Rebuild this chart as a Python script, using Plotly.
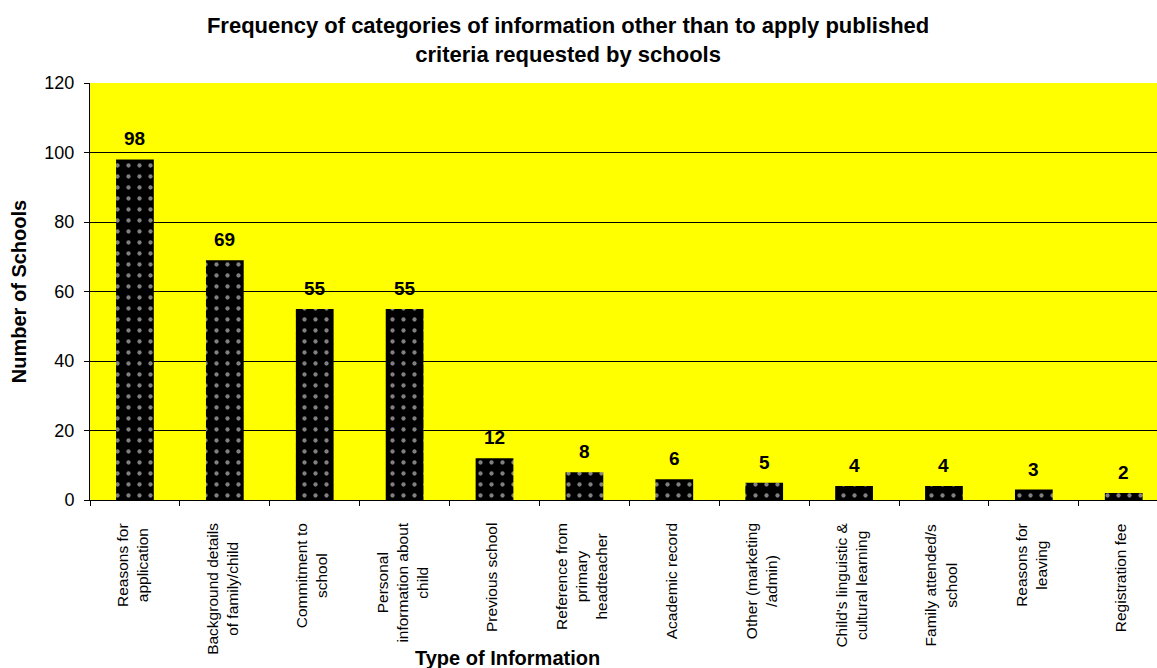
import plotly.graph_objects as go

categories = [
    "Reasons for<br>application",
    "Background details<br>of family/child",
    "Commitment to<br>school",
    "Personal<br>information about<br>child",
    "Previous school",
    "Reference from<br>primary<br>headteacher",
    "Academic record",
    "Other (marketing<br>/admin)",
    "Child's linguistic &<br>cultural learning",
    "Family attended/s<br>school",
    "Reasons for<br>leaving",
    "Registration fee",
]
schools = [98, 69, 55, 55, 12, 8, 6, 5, 4, 4, 3, 2]
y_ticks = [0, 20, 40, 60, 80, 100, 120]

FONT = "Liberation Sans, Arial, sans-serif"
PLOT_H = 668 - 83 - 168

fig = go.Figure(
    go.Bar(
        x=categories,
        y=schools,
        width=0.42,
        marker=dict(
            color="black",
            line=dict(width=0),
            pattern=dict(shape=".", fgcolor="white", bgcolor="black", size=11, solidity=0.12),
        ),
        cliponaxis=False,
    )
)

# value labels above each bar
for cat, val in zip(categories, schools):
    fig.add_annotation(
        x=cat, y=val, xref="x", yref="y",
        text=f"<b>{val}</b>", showarrow=False,
        yanchor="bottom", yshift=8,
        font=dict(family=FONT, size=19, color="black"),
    )

# rotated, centre-aligned category labels under the axis
for cat in categories:
    fig.add_annotation(
        x=cat, y=-21 / PLOT_H, xref="x", yref="paper",
        text=cat, showarrow=False, textangle=-90,
        align="center", xanchor="center", yanchor="top", xshift=-3,
        font=dict(family=FONT, size=15.5, color="black"),
    )

# x-axis title
fig.add_annotation(
    x=(507 - 90) / (1157 - 90), y=-(658 - 500) / PLOT_H, xref="paper", yref="paper",
    text="<b>Type of Information</b>", showarrow=False,
    xanchor="center", yanchor="middle",
    font=dict(family=FONT, size=20, color="black"),
)

fig.update_layout(
    width=1157,
    height=668,
    margin=dict(l=90, r=0, t=83, b=168),
    paper_bgcolor="white",
    plot_bgcolor="#FFFF00",
    showlegend=False,
    title=dict(
        text="<b>Frequency of categories of information other than to apply published<br>criteria requested by schools</b>",
        x=0.491, xanchor="center", yref="container", y=0.950, yanchor="top",
        font=dict(family=FONT, size=22, color="black"),
    ),
    font=dict(family=FONT, color="black"),
)

fig.update_xaxes(
    range=[-0.5, 11.37],
    showticklabels=False,
    tickson="boundaries",
    ticks="outside", ticklen=5, tickcolor="black",
    showline=True, linecolor="black", linewidth=1,
    automargin=False,
)
fig.update_yaxes(
    range=[0, 120],
    tickvals=y_ticks,
    tickfont=dict(family=FONT, size=18, color="black"),
    ticks="outside", ticklen=5, tickcolor="black",
    ticklabelstandoff=6,
    showline=True, linecolor="black", linewidth=1,
    showgrid=True, gridcolor="black", gridwidth=1,
    zeroline=False,
    title=dict(text="<b>Number of Schools</b>", font=dict(family=FONT, size=20, color="black"), standoff=12),
    automargin=False,
)

fig.write_html("out.html")
